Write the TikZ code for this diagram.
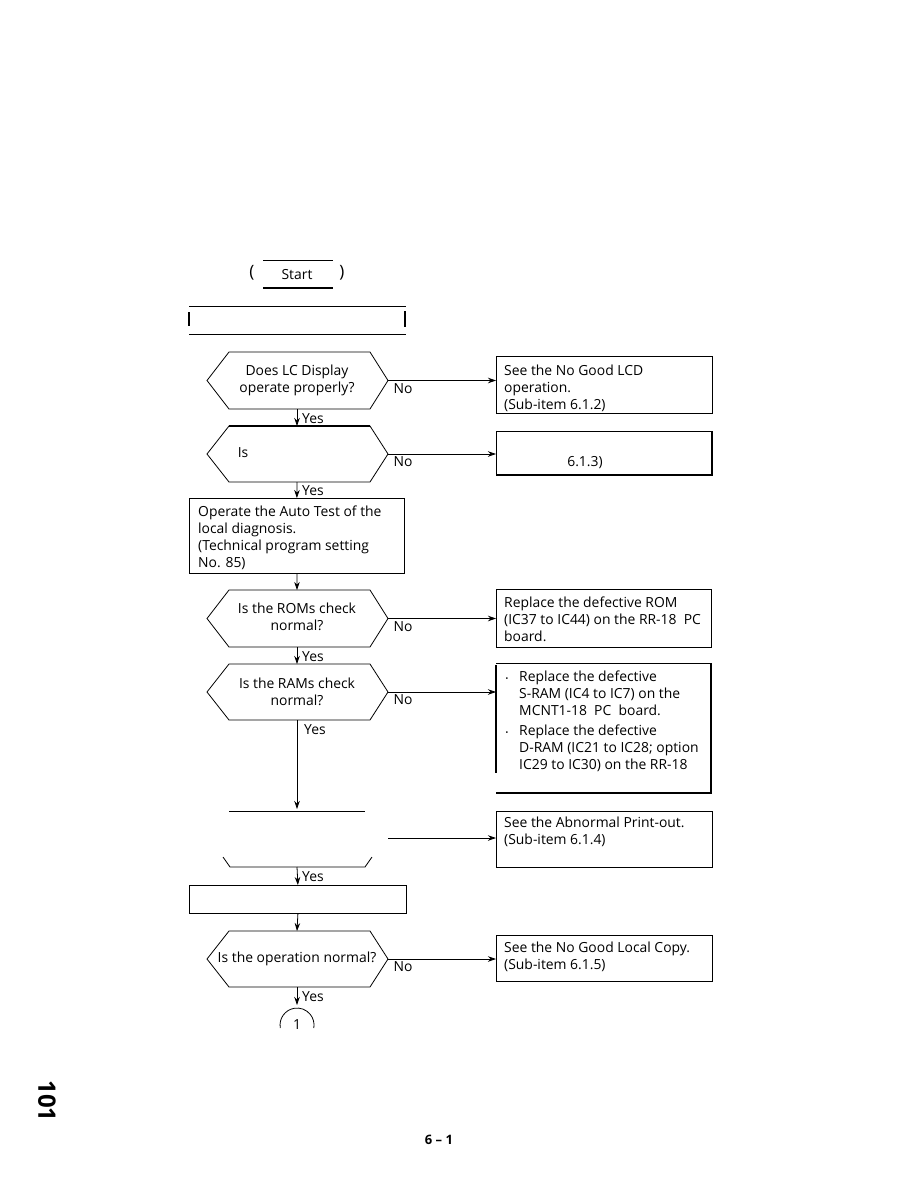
\documentclass[tikz,border=0pt]{standalone}
\usepackage{fontspec}
\setmainfont{Open Sans}
\usetikzlibrary{arrows.meta}
\newcommand\fs{\fontsize{13.9}{16.9}\selectfont}
\tikzset{
  ln/.style={line width=0.8pt},
  arr/.style={line width=0.8pt,-{Stealth[length=8pt,width=5.5pt]}},
  txt/.style={inner sep=0pt,font=\fs},
  blk/.style={inner sep=0pt,font=\fs,align=left,anchor=west},
  ctr/.style={inner sep=0pt,font=\fs,align=center},
  boxn/.style={draw,line width=0.8pt,inner sep=0pt,anchor=north west},
  yes/.style={inner sep=0pt,font=\fs,anchor=west},
}
\newcommand\hexa[3]{% top, bottom, name
  \draw[ln] (229,#1) -- (370,#1) -- (388,{(#1+#2)/2}) -- (370,#2) -- (229,#2) -- (207,{(#1+#2)/2}) -- cycle;
  \coordinate (#3t) at (297,#1);
  \coordinate (#3b) at (297,#2);
  \coordinate (#3r) at (388,{(#1+#2)/2});
  \node[txt] (#3no) at (403,{(#1+#2)/2+8}) {No};
}
\begin{document}
\begin{tikzpicture}[x=1pt,y=-1pt]
\useasboundingbox[fill=white] (0,0) rectangle (918,1188);

% start terminal
\node[txt] (start) at (297,275) {Start};
\draw[ln] (263,260) -- (333,260);
\draw[line width=1.6pt] (263,288) -- (333,288);
\node[inner sep=0pt,font=\fontsize{17}{17}\selectfont] (lp) at (252,273) {(};
\node[inner sep=0pt,font=\fontsize{17}{17}\selectfont] (rp) at (342,273) {)};

% top (blank) box
\draw[ln] (189,306) -- (406,306);
\draw[ln] (189,334) -- (406,334);
\draw[line width=2pt] (189,312) -- (189,326);
\draw[line width=2pt] (405,311) -- (405,327);

% decisions
\hexa{352}{409}{d1}
\node[ctr] (d1txt) at (297,380) {Does LC Display\\operate properly?};

\draw[line width=1.4pt] (229,426) -- (370,426);
\hexa{426}{482}{d2}
\node[txt] (d2txt) at (243,453) {Is};

\hexa{590}{647}{d3}
\node[ctr] (d3txt) at (297,617) {Is the ROMs check\\normal?};

\hexa{664}{720}{d4}
\node[ctr] (d4txt) at (297,692) {Is the RAMs check\\normal?};

% partial decision 5
\draw[ln] (229,811) -- (365,811);
\draw[ln] (223,857) -- (230,867) -- (365,867) -- (372,857);
\coordinate (d5t) at (297,811);
\coordinate (d5b) at (297,867);
\coordinate (d5r) at (388,838);

\hexa{931}{987}{d6}
\node[ctr] (d6txt) at (297,959) {Is the operation normal?};

% process boxes
\node[boxn,minimum width=215pt,minimum height=75pt] (pA) at (189,498) {};
\node[blk] (pAtxt) at (198,538) {Operate the Auto Test of the\\local diagnosis.\\(Technical program setting\\No. 85)};
\node[boxn,minimum width=217pt,minimum height=28pt] (pB) at (189,885) {};

% connector circle
\node[txt] (c1) at (297,1025) {1};
\coordinate (c1t) at (297,1005);
\draw[ln] (280.3,1028) arc[start angle=190,end angle=-10,radius=17pt];

% right boxes
\node[boxn,minimum width=216pt,minimum height=57pt] (b1) at (496,356) {};
\node[blk] (b1txt) at (504,388) {See the No Good LCD\\operation.\\(Sub-item 6.1.2)};

\node[boxn,minimum width=216pt,minimum height=44pt] (b2) at (496,431) {};
\draw[line width=1.6pt] (712,431) -- (712,475) -- (496,475);
\node[txt] (b2txt) at (585,463) {6.1.3)};

\node[boxn,minimum width=215pt,minimum height=58pt] (b3) at (496,589) {};
\node[blk] (b3txt) at (504,619) {Replace the defective ROM\\(IC37 to IC44) on the RR-18\ \ PC\\board.};

% RAM box (partial)
\draw[ln] (496,663) -- (711,663);
\draw[line width=1.2pt] (496,665) -- (496,773);
\draw[line width=1.2pt] (711,663) -- (711,793) -- (496,793);
\coordinate (b4w) at (496,692);
\node[txt] (bul1) at (507,681) {·};
\node[txt] (bul2) at (507,735) {·};
\node[blk] (b4a) at (519,693) {Replace the defective\\S-RAM (IC4 to IC7) on the\\MCNT1-18\ \ PC\ \ board.};
\node[blk] (b4b) at (519,748) {Replace the defective\\D-RAM (IC21 to IC28; option\\IC29 to IC30) on the RR-18};

\node[boxn,minimum width=216pt,minimum height=56pt] (b5) at (496,811) {};
\node[blk] (b5txt) at (504,832) {See the Abnormal Print-out.\\(Sub-item 6.1.4)};

\node[boxn,minimum width=216pt,minimum height=46pt] (b6) at (496,935) {};
\node[blk] (b6txt) at (504,957) {See the No Good Local Copy.\\(Sub-item 6.1.5)};

% No connectors
\draw[arr] (d1r) -- (d1r -| b1.west);
\draw[arr] (d2r) -- (d2r -| b2.west);
\draw[arr] (d3r) -- (d3r -| b3.west);
\draw[arr] (d4r) -- (b4w);
\draw[arr] (d5r) -- (d5r -| b5.west);
\draw[arr] (d6r) -- (d6r -| b6.west);

% Yes connectors
\draw[arr] (d1b) -- (d2t);
\node[yes] (y1) at (302,419) {Yes};
\draw[arr] (d2b) -- (pA.north);
\node[yes] (y2) at (302,491) {Yes};
\draw[arr] (pA.south) -- (d3t);
\draw[arr] (d3b) -- (d4t);
\node[yes] (y3) at (302,657) {Yes};
\draw[arr] (d4b) -- ([yshift=2pt]d5t);
\node[yes] (y4) at (304,730) {Yes};
\draw[arr] (d5b) -- (pB.north);
\node[yes] (y5) at (302,877) {Yes};
\draw[arr] (pB.south) -- (d6t);
\draw[arr] (d6b) -- (c1t);
\node[yes] (y6) at (302,997) {Yes};

% page marks
\node[inner sep=0pt,font=\fontsize{24}{24}\selectfont\bfseries,rotate=-90] (pg) at (47,1101) {101};
\node[inner sep=0pt,font=\fontsize{13}{13}\selectfont\bfseries] (pnum) at (439,1140) {6 -- 1};
\end{tikzpicture}
\end{document}
